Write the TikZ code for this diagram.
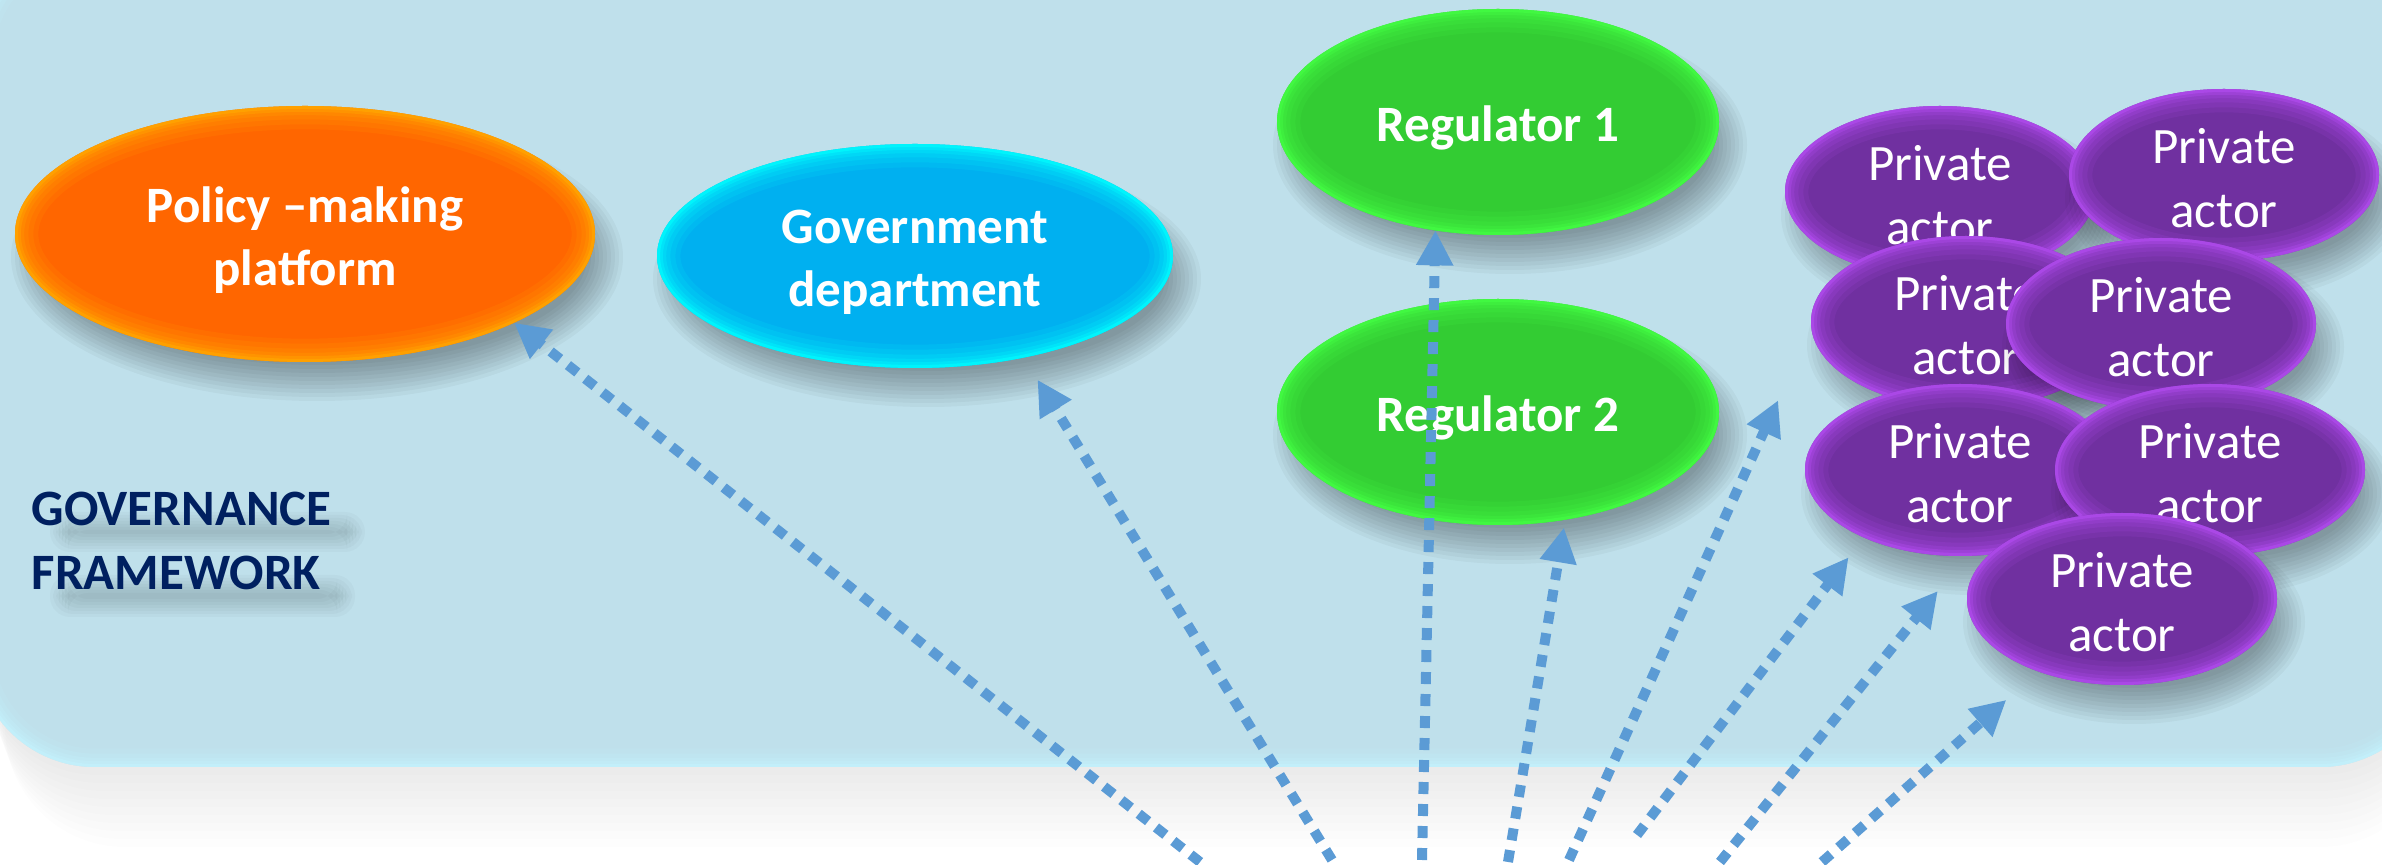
\documentclass[tikz,border=0pt]{standalone}
\usepackage{fontspec}
\setmainfont{Carlito}
\usetikzlibrary{shapes.geometric,arrows.meta,calc}
\definecolor{panelbg}{HTML}{BFE0EB}
\definecolor{panelrim}{HTML}{C4F4FF}
\definecolor{ormain}{HTML}{FF6600}
\definecolor{orrim}{HTML}{FFAA00}
\definecolor{cymain}{HTML}{00B0F0}
\definecolor{cyrim}{HTML}{00FFFF}
\definecolor{grmain}{HTML}{33CC33}
\definecolor{grrim}{HTML}{44FF44}
\definecolor{pumain}{HTML}{7030A0}
\definecolor{purim}{HTML}{B44CF2}
\definecolor{navy}{HTML}{002060}
\definecolor{arrblue}{HTML}{5B9BD5}
% soft drop shadow of an ellipse: centre x, centre y, x radius, y radius (px)
\newcommand{\ellshade}[4]{%
  \foreach \k in {0,...,9}{%
    \fill[black, fill opacity=0.036] ({#1+12},{#2+23}) ellipse [x radius={#3+16-4*\k}, y radius={#4+16-4*\k}];
  }}
% lower a line of text visually, keeping its box
\newcommand{\lowb}[1]{\raisebox{-1.8pt}[\height][\depth]{#1}}
\newcommand{\lowr}[1]{\raisebox{-0.9pt}[\height][\depth]{#1}}
\tikzset{
  rimglow/.style={path picture={
    \foreach \w/\o in {14pt/0.12, 11pt/0.14, 8pt/0.17, 5.5pt/0.22, 3.5pt/0.35, 1.8pt/0.6}{
      \draw[draw=#1, line width=\w, draw opacity=\o]
        let \p1=($(path picture bounding box.north east)-(path picture bounding box.center)$) in
        (path picture bounding box.center) ellipse [x radius=\x1, y radius=\y1];
    }}},
  blob/.style 2 args={ellipse, fill=#1, rimglow=#2, inner sep=0pt, outer sep=0pt,
    text=white, align=center, font=\fontsize{15.3}{19}\selectfont},
  boldtext/.style={font=\fontsize{15.3}{19}\selectfont\bfseries},
  regbox/.style={blob={grmain}{grrim}, boldtext, minimum width=132.6pt, minimum height=67.8pt},
  pabox/.style={blob={pumain}{purim}, minimum width=93pt, minimum height=51.6pt},
  arr/.style={draw=arrblue, line width=3pt, dash pattern=on 3.6pt off 3pt,
    -{Triangle[length=10.5pt,width=10.5pt]}}
}
\begin{document}
\begin{tikzpicture}[x=0.3pt,y=-0.3pt]
\useasboundingbox (0,0) rectangle (2382,865);
\fill[white] (0,0) rectangle (2382,865);
% panel shadow
\foreach \k in {1,...,10}{
  \fill[black, fill opacity=0.008, rounded corners=36pt] ({-25+3*\k},-60) rectangle (2440,{767+8*\k});
}
% panel
\fill[panelbg, rounded corners=36pt] (-25,-60) rectangle (2440,767);
\begin{scope}
  \clip[rounded corners=36pt] (-25,-60) rectangle (2440,767);
  \foreach \w/\o in {11pt/0.15, 8pt/0.18, 5.5pt/0.22, 3.5pt/0.3, 1.8pt/0.5}{
    \draw[panelrim, line width=\w, draw opacity=\o, rounded corners=36pt] (-25,-60) rectangle (2440,767);
  }
\end{scope}
% label with soft shadow
\foreach \k in {0,...,6}{
  \fill[black, fill opacity=0.022, rounded corners=6pt]
    ({50+3*\k},{512+3*\k}) rectangle ({365-3*\k},{552-3*\k})
    ({50+3*\k},{575+3*\k}) rectangle ({355-3*\k},{617-3*\k});
}
\node[anchor=west, text=navy, boldtext, align=left, inner sep=0pt] (gf) at (31,541) {GOVERNANCE\\FRAMEWORK};
% actors
\ellshade{305}{234}{290}{128}
\node[blob={ormain}{orrim}, boldtext, minimum width=174pt, minimum height=76.8pt] (pol) at (305,234) {\lowb{Policy –making}\\\lowb{platform}};
\ellshade{915}{256}{258}{112}
\node[blob={cymain}{cyrim}, boldtext, minimum width=154.8pt, minimum height=67.2pt] (gov) at (915,256) {\lowb{Government}\\\lowb{department}};
\ellshade{1498}{122}{221}{113}
\node[regbox] (reg1) at (1498,122) {\lowb{Regulator 1}};
\ellshade{1498}{412}{221}{113}
\node[regbox] (reg2) at (1498,412) {\lowb{Regulator 2}};
\ellshade{1940}{192}{155}{86}
\node[pabox] (pa1) at (1940,192) {\lowr{Private}\\\lowr{actor}};
\ellshade{2224}{175}{155}{86}
\node[pabox] (pa2) at (2224,175) {\lowr{Private}\\\lowr{actor}};
\ellshade{1966}{322}{155}{86}
\node[pabox] (pa3) at (1966,322) {\lowr{Private}\\\lowr{actor}};
\ellshade{2161}{324}{155}{86}
\node[pabox] (pa4) at (2161,324) {\lowr{Private}\\\lowr{actor}};
\ellshade{1960}{470}{155}{86}
\node[pabox] (pa5) at (1960,470) {\lowr{Private}\\\lowr{actor}};
\ellshade{2210}{470}{155}{86}
\node[pabox] (pa6) at (2210,470) {\lowr{Private}\\\lowr{actor}};
\ellshade{2122}{599}{155}{86}
\node[pabox] (pa7) at (2122,599) {\lowr{Private}\\\lowr{actor}};
% arrows
\coordinate (s1) at (1200,862);
\coordinate (s2) at (1332,860);
\coordinate (s3) at (1422,860);
\coordinate (s4) at (1508,862);
\coordinate (s5) at (1569,860);
\coordinate (s6) at (1637,835);
\coordinate (s7) at (1720,862);
\coordinate (s8) at (1822,862);
\draw[arr] (s1) -- (pol.-23);
\draw[arr, shorten >=7.8pt] (s2) -- (gov.-43.4);
\draw[arr] (s3) -- (reg1.-120.6);
\draw[arr, shorten >=2.4pt] (s4) -- (reg2.-58.3);
\draw[arr, shorten >=24pt] (s5) -- (pa3.182.2);
\draw[arr, shorten >=7.5pt] (s6) -- (pa5.-145.8);
\draw[arr, shorten >=13.5pt] (s7) -- (pa5.-86.7);
\draw[arr, shorten >=12.9pt] (s8) -- (pa7.-139);
\end{tikzpicture}
\end{document}
